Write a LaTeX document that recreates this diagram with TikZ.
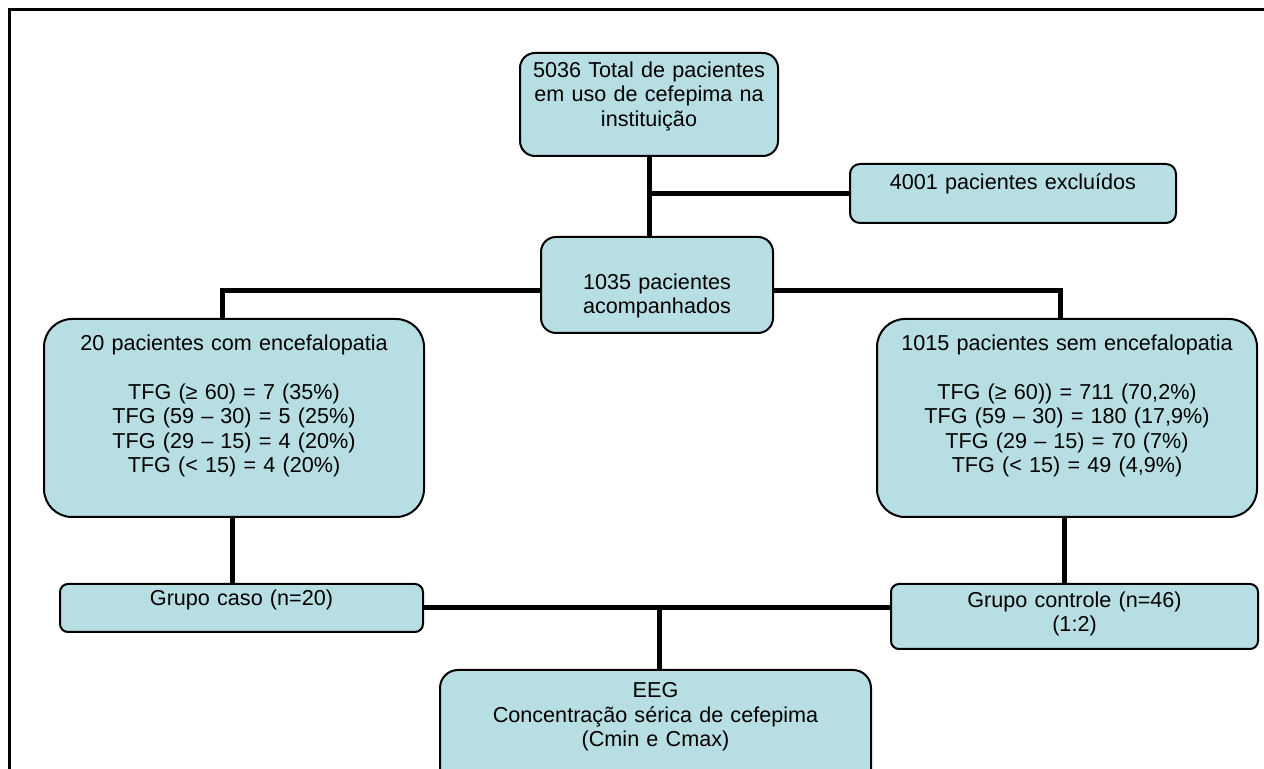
\documentclass[tikz,border=0pt]{standalone}
\usepackage{fontspec}
\setmainfont{Liberation Sans}
\definecolor{boxblue}{RGB}{183,222,226}

\begin{document}
\begin{tikzpicture}[x=0.5pt, y=-0.5pt,
    box/.style={draw, line width=1pt, fill=boxblue, anchor=north, align=center, inner sep=0pt, outer sep=0pt, font=\fontsize{10.8}{12.25}\selectfont},
    link/.style={line width=2.5pt}
]
    \clip (0,0) rectangle (1264,769);
    % moldura
    \draw[line width=1.5pt] (9.5,9.5) rectangle (1400,900);

    % caixas
    \node[box, rounded corners=7.5pt, text width=129pt, text height=12.25pt, text depth=39.25pt] (total) at (649,53) {5036 Total de pacientes\\em uso de cefepima na\\instituição};
    \node[box, rounded corners=5pt, text width=163pt, text height=12.75pt, text depth=16.75pt] (excl) at (1013,164) {4001 pacientes excluídos};
    \node[box, rounded corners=7.5pt, text width=116pt, text height=26.25pt, text depth=21.75pt] (acomp) at (657,237) {1035 pacientes\\acompanhados};

    \node[box, rounded corners=14pt, text width=190pt, text height=15.75pt, text depth=83.25pt] (com) at (234,319) {20 pacientes com encefalopatia\\[12.25pt]TFG (≥ 60) = 7 (35\%)\\TFG (59 – 30) = 5 (25\%)\\TFG (29 – 15) = 4 (20\%)\\TFG (< 15) = 4 (20\%)};
    \node[box, rounded corners=14pt, text width=190pt, text height=15.75pt, text depth=83.25pt] (sem) at (1067,319) {1015 pacientes sem encefalopatia\\[12.25pt]TFG (≥ 60)) = 711 (70,2\%)\\TFG (59 – 30) = 180 (17,9\%)\\TFG (29 – 15) = 70 (7\%)\\TFG (< 15) = 49 (4,9\%)};

    \node[box, rounded corners=4pt, text width=181.5pt, text height=10.75pt, text depth=13.25pt] (caso) at (241.5,584) {Grupo caso (n=20)};
    \node[box, rounded corners=4pt, text width=183.5pt, text height=11.75pt, text depth=20.75pt] (controle) at (1074.5,584) {Grupo controle (n=46)\\(1:2)};
    \node[box, rounded corners=9pt, text width=215.5pt, text height=13.75pt, text depth=51.25pt] (eeg) at (655.5,670) {EEG\\Concentração sérica de cefepima\\(Cmin e Cmax)};

    % ligacoes
    \draw[link] (total.south) -- (total.south |- acomp.north);
    \draw[link] (total.south |- excl.west) -- (excl.west);
    \draw[link] ([yshift=-3pt]acomp.west) -| ([xshift=-6pt]com.north);
    \draw[link] ([yshift=-3pt]acomp.east) -| ([xshift=-3.5pt]sem.north);
    \draw[link] ([xshift=-1pt]com.south) -- ([xshift=-1pt]com.south |- caso.north);
    \draw[link] ([xshift=-1.5pt]sem.south) -- ([xshift=-1.5pt]sem.south |- controle.north);
    \draw[link] (caso.east) -- (caso.east -| controle.west);
    \draw[link] ([xshift=2pt]caso.east -| eeg.north) -- ([xshift=2pt]eeg.north);
\end{tikzpicture}
\end{document}
